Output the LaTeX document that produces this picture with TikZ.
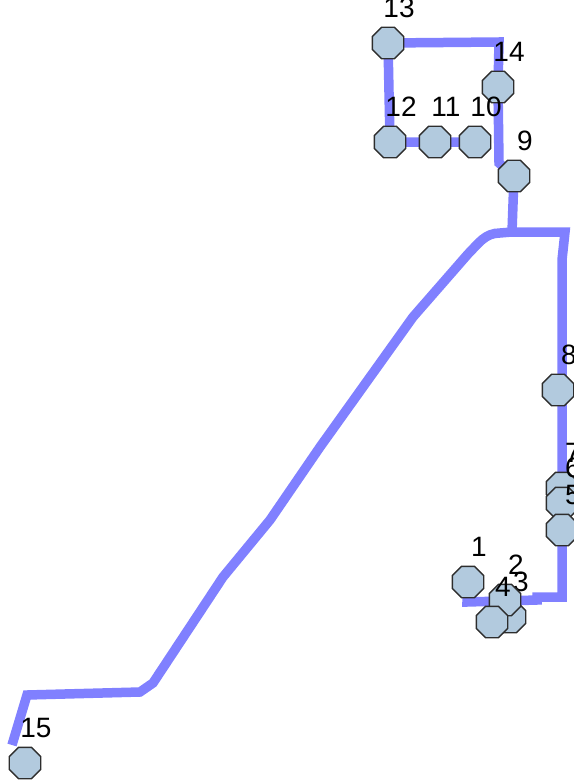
\documentclass[tikz,border=0pt]{standalone}
\usepackage{fontspec}
\setmainfont{Liberation Sans}
\usetikzlibrary{shapes.geometric, backgrounds}
\definecolor{route}{RGB}{128,128,255}
\definecolor{stopfill}{RGB}{178,202,222}
\definecolor{stopline}{RGB}{45,45,45}
\NewDocumentCommand{\stopno}{m}{#1}

\begin{document}
\begin{tikzpicture}[x=1pt, y=-1pt, stop/.style = {draw=stopline,
                        fill=stopfill, line width=1.4pt, regular polygon,
                        regular polygon sides=8, minimum size=34pt,
                        inner sep=0pt, label={[shift={(11,-35)},
                        font=\fontsize{28}{28}\selectfont]center:\stopno{#1}}},
                    routeline/.style = {draw=route, line width=9.5pt, line join=miter}]
        \useasboundingbox (0,0) rectangle (573,781);

        \node[stop=13] (13) at (388,43) {};
        \node[stop=14] (14) at (498,87) {};
        \node[stop=12] (12) at (390,142) {};
        \node[stop=11] (11) at (435,142) {};
        \node[stop=10] (10) at (475,142) {};
        \node[stop=9] (9) at (514,176) {};

        \node[stop=8] (8) at (558,390) {};
        \node[stop=7] (7) at (562,488) {};
        \node[stop=6] (6) at (562,503) {};
        \node[stop=5] (5) at (562,530) {};

        \node[stop=1] (1) at (468,582) {};
        \node[stop=3] (3) at (510,617) {};
        \node[stop=2] (2) at (505,600) {};
        \node[stop=4] (4) at (492,622) {};

        \node[stop=15] (15) at (25,763) {};

        \coordinate (top) at (499,42);
        \coordinate (turn) at (499,163);
        \coordinate (fork) at (512,232);
        \coordinate (corner) at (565,232);
        \coordinate (foot) at (562,597);
        \coordinate (bend) at (467,602);
        \coordinate (west) at (27,695);
        \coordinate (end) at (12,745);

        \begin{pgfonlayer}{background}
            \draw[routeline] (10.center) -- (11.center) -- (12.center) -- (13.center)
                -- (top) -- (14.center) -- (turn) -- (9.center) -- (fork);
            \draw[routeline] (1.center) -- (bend) -- (537,600) -- (537,597) -- (foot)
                -- (562,260) -- (corner) -- (fork);
            \draw[routeline] (fork) -- (500,233) to[out=180, in=45] (468,254)
                -- (413,317) -- (320,447) -- (270,520) -- (223,577)
                -- (153,683) -- (140,692) -- (west) -- (end);
        \end{pgfonlayer}
    \end{tikzpicture}
\end{document}
